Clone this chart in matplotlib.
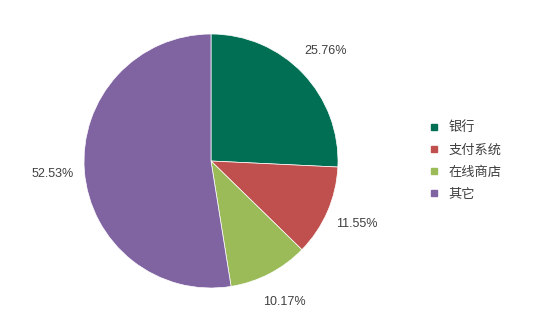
import numpy as np
import matplotlib
matplotlib.use("Agg")
from matplotlib import pyplot as plt
from matplotlib.lines import Line2D

# data
labels = ["银行", "支付系统", "在线商店", "其它"]
shares = [25.76, 11.55, 10.17, 52.53]
colors = ["#006f53", "#c0504d", "#9bbb59", "#8064a2"]

plt.rcParams['font.family'] = ['Noto Sans CJK SC', 'DejaVu Sans']

fig = plt.figure(figsize=(5.53, 3.23), dpi=100)
ax = fig.add_axes([84/553, 35/323, 254/553, 254/323])

# show the values as read, not renormalised
pct_text = iter(["{:.2f}%".format(s) for s in shares])
wedges, texts, autotexts = ax.pie(shares, colors=colors, startangle=90, counterclock=False,
                                  autopct=lambda p: next(pct_text), pctdistance=1.25,
                                  wedgeprops=dict(linewidth=0.5, edgecolor="white"))
for t in autotexts:
    t.set_fontfamily("Liberation Sans")
    t.set_fontsize(9)
    t.set_color("#404040")
ax.set_xlim(-1, 1)
ax.set_ylim(-1, 1)
ax.set_aspect("equal")

handles = [Line2D([], [], marker="s", linestyle="none", markersize=5,
                  markerfacecolor=c, markeredgecolor=c) for c in colors]
leg = fig.legend(handles, labels, loc="center left", bbox_to_anchor=(417/553, 1 - 161/323),
                 frameon=False, handlelength=0.8, handletextpad=0.7, labelspacing=0.7,
                 prop={"family": "Noto Sans CJK SC", "size": 9.5})
for t in leg.get_texts():
    t.set_color("#404040")

fig.savefig("out.png", dpi=100)
